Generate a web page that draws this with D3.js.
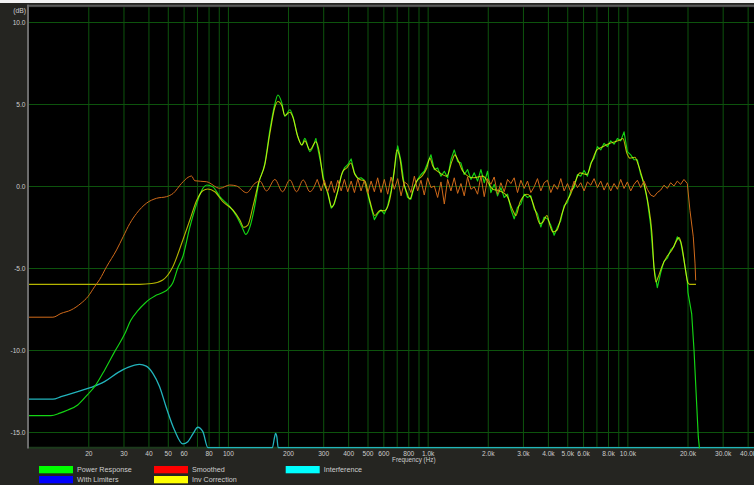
<!DOCTYPE html>
<html>
<head>
<meta charset="utf-8">
<script src="https://cdn.jsdelivr.net/npm/d3@7"></script>
<style>
  html, body { margin: 0; padding: 0; background: #f4f4f4; }
  svg { display: block; }
  text { font-family: "Liberation Sans", Arial, sans-serif; fill: #cdcdcd; }
</style>
</head>
<body>
<svg id="chart" width="754" height="485"></svg>
<script>
// ---- axis definitions ----
const gridFreqs = [20, 30, 40, 50, 60, 70, 80, 90, 100, 200, 300, 400, 500, 600, 700, 800, 900,
  1000, 2000, 3000, 4000, 5000, 6000, 7000, 8000, 9000, 10000, 20000, 30000, 40000];
const labelFreqs = [20, 30, 40, 50, 60, 80, 100, 200, 300, 400, 500, 600, 800,
  1000, 2000, 3000, 4000, 5000, 6000, 8000, 10000, 20000, 30000, 40000];
const dbTicks = [10, 5, 0, -5, -10, -15];

// ---- measurement data (frequency in Hz, level in dB) ----
// Shared frequency grid for the densely sampled band (1/60 decade spacing)
const gridHz = [293, 304, 316, 329, 341, 355, 369, 383, 398, 414, 430, 447, 464, 482, 501, 521, 541, 562, 584, 607,
  631, 656, 681, 708, 736, 764, 794, 825, 858, 891, 926, 962, 1000, 1039, 1080, 1122, 1166, 1212, 1259, 1308,
  1359, 1413, 1468, 1525, 1585, 1647, 1711, 1778, 1848, 1920, 1995, 2073, 2154, 2239, 2326, 2417, 2512, 2610, 2712, 2818,
  2929, 3043, 3162, 3286, 3415, 3548, 3687, 3831, 3981, 4137, 4299, 4467, 4642, 4823, 5012, 5208, 5412, 5623, 5843, 6072,
  6310, 6557, 6813, 7079, 7356, 7644, 7943, 8254, 8577, 8913, 9261, 9624, 10000, 10391, 10798, 11220, 11659, 12115, 12589, 13082,
  13594, 14125, 14678, 15252, 15849, 16469, 17113, 17783, 18478, 19201, 19953];

// Power Response (raw)
const powerLow = [[10, -14.0], [13.0, -14.0], [14.4, -13.85], [15.8, -13.66], [17.7, -13.35], [19.9, -12.7], [21.6, -12.2],
  [24.2, -11.2], [27.1, -10.1], [30.5, -9.0], [32.6, -8.2], [35.4, -7.6], [38.4, -7.15], [40.6, -6.9], [43.1, -6.7],
  [47.2, -6.5], [50.0, -6.3], [53.0, -5.9], [56.1, -5.0], [59.5, -4.3], [64.5, -2.5], [69.9, -1.05], [74.9, -0.14],
  [78.4, 0.06], [84.0, -0.04], [91.1, -0.65], [102.2, -1.26], [110.9, -1.87], [117.5, -2.48], [123.0, -2.95],
  [128.8, -2.5], [134.9, -1.5], [142.9, 0.2], [153.1, 1.38], [162.2, 3.4], [171.8, 5.0], [177.9, 5.55], [186.3, 5.05],
  [192.8, 4.25], [204.3, 4.65], [211.4, 4.25], [224.0, 3.0], [234.6, 2.5], [242.8, 2.9], [257.3, 2.1], [275.6, 2.9]];
const powerGrid = [1.25, 0.2, -0.45, -1.35, -1.1, -0.3, 0.6, 1.1, 1.3, 1.65, 0.8, 0.45, 0.5, 0.35, -0.5, -1.3, -2.05, -1.7, -1.45, -1.7,
  -1.2, -0.3, 1.0, 2.45, 1.5, 0.05, -0.7, -0.8, 0.0, 0.4, 0.7, 0.9, 1.4, 1.9, 1.0, 1.1, 0.6, 0.9, 0.5, 1.6,
  2.2, 1.5, 1.4, 0.7, 1.0, 0.4, 0.8, 0.3, 1.0, 0.2, 0.9, -0.4, 0.1, -0.6, -0.1, -0.7, -0.5, -1.4, -2.0, -1.3,
  -1.1, -0.5, -0.7, -0.6, -1.4, -1.7, -2.5, -1.9, -2.0, -2.4, -3.0, -2.5, -2.1, -1.2, -1.0, -0.3, -0.1, 0.7, 0.6, 0.95,
  0.6, 1.4, 1.7, 2.4, 2.2, 2.6, 2.4, 2.75, 2.55, 2.9, 2.75, 3.3, 2.1, 1.9, 1.6, 1.6, 0.7, 0.15, -0.9, -2.4,
  -5.0, -6.2, -5.3, -4.6, -4.4, -3.9, -3.7, -3.1, -3.4, -4.5, -5.8];
const powerTail = [[20111, -6.5], [20990, -7.8], [21560, -10.0], [22230, -13.3], [22650, -15.3], [22960, -16.0]];

// Inv Correction (smoothed, limited)
const invCorrection = [[10, -6.0], [36.2, -6.0], [41.6, -5.95], [47.2, -5.73], [53.0, -4.92], [59.5, -3.29], [64.5, -2.07],
  [69.9, -0.85], [74.9, -0.29], [79.3, -0.18], [86.0, -0.35], [94.3, -0.96], [105.9, -1.46], [114.8, -2.07], [120.2, -2.52],
  [125.9, -2.38], [133.4, -1.26], [142.9, 0.26], [153.1, 1.3], [162.2, 3.2], [171.8, 4.8], [177.9, 5.15], [186.3, 4.9],
  [192.8, 4.3], [204.3, 4.5], [211.4, 4.2], [224.0, 3.0], [234.6, 2.5], [242.8, 2.75], [257.3, 2.2], [275.6, 2.7],
  [288.6, 1.9], [298.8, 0.5], [316.5, -0.4], [331.4, -1.3], [351.2, -0.5], [376.2, 0.9], [393.9, 1.1], [412.5, 1.4],
  [432.1, 0.7], [457.7, 0.4], [484.9, 0.3], [513.7, -0.9], [544.1, -1.8], [576.6, -1.5], [610.8, -1.5], [647.1, -0.8],
  [677.5, 0.7], [701.4, 2.2], [726.0, 1.7], [751.6, 0.4], [787.0, -0.4], [814.7, -0.8], [843.4, -0.3], [883.1, 0.3],
  [935.6, 0.6], [991.1, 1.1], [1026, 1.7], [1062, 1.2], [1151, 0.8], [1248, 0.6], [1322, 1.5], [1369, 1.9], [1417, 1.6],
  [1501, 0.9], [1685, 0.5], [1891, 0.6], [2122, -0.2], [2300, -0.3], [2494, -0.6], [2672, -1.5], [2766, -1.8],
  [2896, -1.0], [3140, -0.5], [3250, -0.6], [3443, -1.4], [3648, -2.3], [3776, -2.2], [3956, -1.8], [4094, -2.4],
  [4239, -2.8], [4438, -2.7], [4701, -1.7], [4980, -0.9], [5155, -0.6], [5462, 0.2], [5786, 0.8], [6273, 0.7],
  [6645, 1.5], [7039, 2.2], [7543, 2.4], [8177, 2.6], [8662, 2.7], [9178, 2.8], [9500, 2.9], [9947, 2.0], [10298, 1.7],
  [10909, 1.75], [11294, 1.35], [11965, 0.35], [12676, -1.0], [13275, -2.9], [13583, -4.9], [13900, -5.85],
  [14223, -5.6], [14897, -4.9], [15782, -4.3], [16720, -3.9], [17710, -3.3], [18122, -3.15], [18763, -3.7],
  [19421, -4.9], [20111, -5.9], [20578, -6.0], [22050, -6.0]];

// Smoothed
const smoothedLow = [[10, -8.0], [13.3, -8.0], [14.6, -7.77], [16.4, -7.56], [18.4, -7.15], [19.9, -6.75], [21.5, -6.14],
  [22.8, -5.7], [24.7, -4.92], [27.7, -3.9], [29.9, -3.09], [32.3, -2.28], [34.9, -1.67], [39.1, -1.05], [43.9, -0.75],
  [49.3, -0.65], [53.2, -0.45], [58.6, 0.16], [63.2, 0.53], [65.7, 0.61], [68.3, 0.32], [78.2, 0.26], [91.1, -0.14],
  [102.2, 0.06], [110.5, 0.0], [124.0, -0.41], [136.5, 0.16], [144.6, 0.3], [156.1, -0.3], [171.8, 0.4], [187.7, -0.35],
  [204.3, 0.37], [220.7, -0.35], [238.2, 0.37], [257.3, -0.35], [280.0, 0.4]];
const smoothedGrid = [-0.3, 0.35, -0.35, 0.3, -0.4, 0.35, -0.3, 0.4, -0.35, 0.3, -0.4, 0.45, -0.3, 0.35, -0.45, 0.3, -0.35, 0.5, -0.4, 0.4,
  -0.5, 0.55, -0.2, 0.45, -0.6, 0.25, 0.1, -0.4, 0.6, -0.3, 0.35, -0.55, 0.5, -0.1, 0.0, -0.7, 0.25, -1.1, 0.4, -0.3,
  0.5, -0.45, 0.15, -0.6, 0.55, -0.2, -0.05, -0.5, 0.6, -0.65, 0.45, 0.1, 0.55, -0.5, 0.2, -0.35, 0.4, 0.15, 0.5, -0.4,
  0.35, -0.15, 0.3, -0.4, -0.05, 0.45, -0.3, 0.2, 0.35, -0.4, 0.1, -0.2, 0.45, -0.3, 0.15, -0.35, 0.3, -0.1, 0.2, -0.3,
  0.25, 0.05, 0.45, -0.1, 0.3, -0.25, 0.2, -0.3, 0.15, -0.2, 0.4, -0.15, 0.25, -0.3, 0.1, 0.35, -0.1, 0.3, -0.2, -0.55,
  -0.65, -0.4, -0.25, 0.05, -0.15, 0.2, 0.0, 0.3, 0.1, 0.4, 0.15];
const smoothedTail = [[20580, -1.5], [21380, -3.1], [21810, -4.7], [21980, -5.75]];

// Interference
const interference = [[10, -13.0], [13.3, -13.0], [14.6, -12.85], [17.7, -12.54], [20.65, -12.28], [24.1, -11.93],
  [28.1, -11.38], [31.6, -11.06], [36.1, -10.88], [39.0, -10.98], [42.1, -11.42], [45.5, -12.24], [49.0, -13.46],
  [54.0, -14.88], [59.5, -15.73], [63.0, -15.59], [66.8, -15.12], [70.7, -14.71], [74.9, -14.98], [79.4, -15.95],
  [167, -15.95], [171, -15.35], [173.2, -15.08], [175.8, -15.3], [178.5, -15.95], [43000, -15.95]];

// Legend
const legendNames = ["Power Response", "With Limiters", "Smoothed", "Inv Correction", "Interference"];
const legendColors = ["#00ff00", "#0000ff", "#ff0000", "#ffff00", "#00ffff"];

// ---- layout ----
const W = 754, H = 485;
const x = d3.scaleLog().domain([20, 20000]).range([88.3, 687.5]);
const y = d3.scaleLinear().domain([-15, 10]).range([432, 22]);
const plotLeft = 29, plotRight = W, plotTop = y(10.9), plotBottom = y(-15.95);

const svg = d3.select("#chart");

svg.append("rect").attr("width", W).attr("height", H).attr("fill", "#f4f4f4");
svg.append("rect").attr("x", 0).attr("y", 3).attr("width", W).attr("height", H - 3).attr("fill", "#252521");
svg.append("rect").attr("x", plotLeft).attr("y", plotTop)
  .attr("width", plotRight - plotLeft).attr("height", plotBottom - plotTop).attr("fill", "#000");

// grid
const gx = svg.append("g").attr("transform", `translate(0,${plotBottom})`)
  .call(d3.axisBottom(x).tickValues(gridFreqs).tickSize(-(plotBottom - plotTop)).tickFormat(""));
gx.select(".domain").remove();
gx.selectAll("line").attr("stroke", "#0d530d").attr("stroke-width", 1);

const gy = svg.append("g").attr("transform", `translate(${plotLeft},0)`)
  .call(d3.axisLeft(y).tickValues(dbTicks).tickSize(-(plotRight - plotLeft)).tickFormat(""));
gy.select(".domain").remove();
gy.selectAll("line").attr("stroke", "#0d530d").attr("stroke-width", 1);

// frame
svg.append("line").attr("x1", plotLeft).attr("x2", plotRight).attr("y1", plotBottom + 0.2).attr("y2", plotBottom + 0.2)
  .attr("stroke", "#1c3a1c").attr("stroke-width", 2);
svg.append("line").attr("x1", 27).attr("x2", plotRight).attr("y1", 5.7).attr("y2", 5.7)
  .attr("stroke", "#5a5a5a").attr("stroke-width", 2);
svg.append("line").attr("x1", 28).attr("x2", 28).attr("y1", 4.7).attr("y2", plotBottom + 1)
  .attr("stroke", "#6c6c6c").attr("stroke-width", 2);

// axis labels
const ax = svg.append("g").attr("transform", `translate(0,${plotBottom})`)
  .call(d3.axisBottom(x).tickValues(labelFreqs).tickSize(0)
    .tickFormat(d => d >= 1000 ? (d / 1000).toFixed(1) + "k" : String(d)));
ax.select(".domain").remove();
ax.selectAll("text").attr("y", 8).attr("dy", null)
  .style("font-size", "6.6px").style("fill", "#cdcdcd").style("font-family", '"Liberation Sans", Arial, sans-serif');

const ay = svg.append("g").attr("transform", "translate(28,0)")
  .call(d3.axisLeft(y).tickValues(dbTicks).tickSize(0).tickPadding(2.5).tickFormat(d => d.toFixed(1)));
ay.select(".domain").remove();
ay.selectAll("text").style("font-size", "6.6px").style("fill", "#cdcdcd")
  .style("font-family", '"Liberation Sans", Arial, sans-serif');

svg.append("text").attr("x", 26).attr("y", 13).attr("text-anchor", "end")
  .style("font-size", "6.8px").text("(dB)");
svg.append("text").attr("x", 413.8).attr("y", 461.8).attr("text-anchor", "middle")
  .style("font-size", "6.3px").text("Frequency (Hz)");

// curves
svg.append("clipPath").attr("id", "plotClip").append("rect")
  .attr("x", plotLeft).attr("y", plotTop).attr("width", plotRight - plotLeft).attr("height", plotBottom - plotTop + 1.5);
const curves = svg.append("g").attr("clip-path", "url(#plotClip)");

// smooth low-frequency sections use a monotone curve, the dense band is joined point to point
const lineSmooth = d3.line().x(d => x(d[0])).y(d => y(d[1])).curve(d3.curveMonotoneX);
const lineRaw = d3.line().x(d => x(d[0])).y(d => y(d[1])).curve(d3.curveLinear);

const powerBand = [powerLow[powerLow.length - 1]].concat(gridHz.map((f, i) => [f, powerGrid[i]]), powerTail);
const smoothedBand = [smoothedLow[smoothedLow.length - 1]].concat(gridHz.map((f, i) => [f, smoothedGrid[i]]), smoothedTail);

curves.append("path").datum(interference).attr("d", lineSmooth)
  .attr("fill", "none").attr("stroke", "#22b4bc").attr("stroke-width", 1.3);

const powerG = curves.append("g").attr("fill", "none").attr("stroke", "#14d414").attr("stroke-width", 1.15);
powerG.append("path").datum(powerLow).attr("d", lineSmooth);
powerG.append("path").datum(powerBand).attr("d", lineRaw).attr("stroke-linejoin", "round");

curves.append("path").datum(invCorrection).attr("d", lineSmooth)
  .attr("fill", "none").attr("stroke", "#b4b400").attr("stroke-width", 1.1)
  .style("mix-blend-mode", "screen");

const smoothG = curves.append("g").attr("fill", "none").attr("stroke", "#d06a1a").attr("stroke-width", 1.0);
smoothG.append("path").datum(smoothedLow).attr("d", lineSmooth);
smoothG.append("path").datum(smoothedBand).attr("d", lineRaw).attr("stroke-linejoin", "round");

// legend
const legendCols = [39, 154, 285.7];
const legendRows = [466, 476];
const legendSlots = [[0, 0], [0, 1], [1, 0], [1, 1], [2, 0]];
const lg = svg.append("g").selectAll("g").data(legendNames).join("g")
  .attr("transform", (d, i) => `translate(${legendCols[legendSlots[i][0]]},${legendRows[legendSlots[i][1]]})`);
lg.append("rect").attr("width", 34).attr("height", 7.3).attr("fill", (d, i) => legendColors[i]);
lg.append("text").attr("x", 38).attr("y", 6.3).style("font-size", "7.2px").text(d => d);
</script>
</body>
</html>
